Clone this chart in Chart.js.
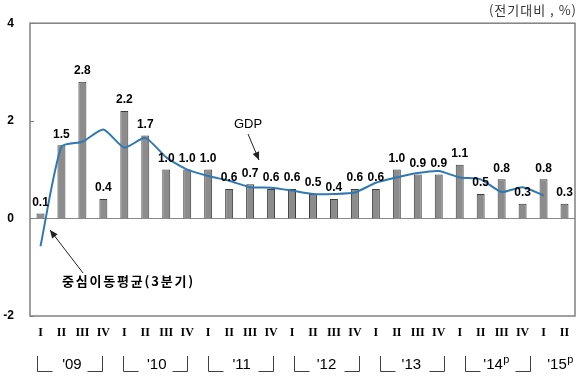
<!DOCTYPE html>
<html><head><meta charset="utf-8">
<script src="https://cdn.jsdelivr.net/npm/chart.js@4/dist/chart.umd.min.js"></script>
<style>html,body{margin:0;padding:0;background:#fff}#wrap{width:584px;height:381px;position:relative}</style>
</head><body><div id="wrap"><canvas id="c" width="584" height="381"></canvas></div>
<script>
const quarterLabels = ['I','II','III','IV','I','II','III','IV','I','II','III','IV','I','II','III','IV','I','II','III','IV','I','II','III','IV','I','II'];
const gdpValues = [0.1,1.5,2.8,0.4,2.2,1.7,1.0,1.0,1.0,0.6,0.7,0.6,0.6,0.5,0.4,0.6,0.6,1.0,0.9,0.9,1.1,0.5,0.8,0.3,0.8,0.3];
const maValues = [-0.57,1.47,1.57,1.82,1.45,1.65,1.25,1.0,0.87,0.77,0.64,0.63,0.57,0.5,0.5,0.53,0.73,0.84,0.93,0.97,0.84,0.8,0.54,0.64,0.47,null];
const yearLabels = ["'09","'10","'11","'12","'13","'14","'15"];
const yearPrelim = [false,false,false,false,false,true,true];
const yearQuarters = [4,4,4,4,4,4,2];
const yTicks = [-2,0,2,4];

function arrow(ctx,x1,y1,x2,y2){
  ctx.beginPath();ctx.moveTo(x1,y1);ctx.lineTo(x2,y2);ctx.stroke();
  const a=Math.atan2(y2-y1,x2-x1), L=8, W=3.5;
  ctx.beginPath();
  ctx.moveTo(x2,y2);
  ctx.lineTo(x2-L*Math.cos(a)+W*Math.sin(a), y2-L*Math.sin(a)-W*Math.cos(a));
  ctx.lineTo(x2-L*Math.cos(a)-W*Math.sin(a), y2-L*Math.sin(a)+W*Math.cos(a));
  ctx.closePath();ctx.fill();
}

const deco = {
  id:'deco',
  beforeDatasetsDraw(chart){
    const {ctx,chartArea:ca,scales:{y}}=chart;
    ctx.save();
    ctx.strokeStyle='#8a8a8a';ctx.lineWidth=1.2;
    const y0=Math.round(y.getPixelForValue(0))+0.5;
    ctx.beginPath();ctx.moveTo(ca.left,y0);ctx.lineTo(ca.right,y0);ctx.stroke();
    ctx.strokeStyle='#808080';ctx.lineWidth=1.5;
    ctx.strokeRect(ca.left,ca.top,ca.right-ca.left,ca.bottom-ca.top);
    ctx.lineWidth=1;
    yTicks.forEach(v=>{const p=Math.round(y.getPixelForValue(v))+0.5;ctx.beginPath();ctx.moveTo(ca.left,p);ctx.lineTo(ca.left+4,p);ctx.stroke();});
    ctx.restore();
  },
  afterDraw(chart){
    const {ctx,chartArea:ca,scales:{x,y}}=chart;
    ctx.save();
    // bar value labels
    const meta=chart.getDatasetMeta(1);
    ctx.fillStyle='#000';ctx.font='bold 12px "Liberation Sans", Arial, sans-serif';
    ctx.textAlign='center';ctx.textBaseline='middle';
    meta.data.forEach((b,i)=>{ctx.fillText(gdpValues[i].toFixed(1), b.x, b.y-11);});
    // unit label
    ctx.font='13px "Noto Sans CJK KR", sans-serif';ctx.fillStyle='#333';
    ctx.textAlign='right';ctx.textBaseline='middle';
    if (ctx.letterSpacing!==undefined) ctx.letterSpacing='1px';
    ctx.fillText('(전기대비 , %)',577,10);
    if (ctx.letterSpacing!==undefined) ctx.letterSpacing='0px';
    // annotations
    ctx.fillStyle='#000';ctx.textAlign='center';
    ctx.font='13px "Liberation Sans", Arial, sans-serif';
    ctx.fillText('GDP',248,124);
    ctx.strokeStyle='#222';ctx.fillStyle='#222';ctx.lineWidth=1;
    arrow(ctx,248,134,259,160);
    arrow(ctx,83,273,50,230);
    ctx.fillStyle='#000';
    ctx.font='bold 13px "Noto Sans CJK KR", sans-serif';
    ctx.textAlign='left';
    if (ctx.letterSpacing!==undefined) ctx.letterSpacing='1.8px';
    ctx.fillText('중심이동평균(3분기)',62,281);
    if (ctx.letterSpacing!==undefined) ctx.letterSpacing='0px';
    // year labels with brackets
    const cat=(x.getPixelForValue(1)-x.getPixelForValue(0));
    let s=0;
    ctx.strokeStyle='#404040';ctx.lineWidth=1;
    yearLabels.forEach((lab,g)=>{
      const n=yearQuarters[g];
      const gl=x.getPixelForValue(s)-cat/2, gr=x.getPixelForValue(s+n-1)+cat/2;
      const cx=(gl+gr)/2+g*1.0;
      ctx.font='15px "Liberation Sans", Arial, sans-serif';
      ctx.textAlign='center';ctx.textBaseline='middle';ctx.fillStyle='#000';
      const w=ctx.measureText(lab).width;
      let pw=0;
      if(yearPrelim[g]){ctx.font='11px "Liberation Sans", Arial, sans-serif';pw=ctx.measureText('p').width;}
      const tx=cx-(w+pw)/2;
      ctx.font='15px "Liberation Sans", Arial, sans-serif';ctx.textAlign='left';
      ctx.fillText(lab,tx,365);
      if(yearPrelim[g]){ctx.font='11px "Liberation Sans", Arial, sans-serif';ctx.fillText('p',tx+w+0.5,360);}
      if(n===4){
        const lx=Math.round(gl+7+g*1.8)+0.5, rx=Math.round(gr-12+g*1.8)+0.5;
        ctx.beginPath();ctx.moveTo(lx,356);ctx.lineTo(lx,371.5);ctx.lineTo(lx+15,371.5);ctx.stroke();
        ctx.beginPath();ctx.moveTo(rx-15,371.5);ctx.lineTo(rx,371.5);ctx.lineTo(rx,356);ctx.stroke();
      }
      s+=n;
    });
    ctx.restore();
  }
};

new Chart(document.getElementById('c'),{
  data:{
    labels:quarterLabels,
    datasets:[
      {type:'line',data:maValues,borderColor:'#2f78b4',borderWidth:2,pointRadius:0,tension:0.2,fill:false,order:0,spanGaps:false},
      {type:'bar',data:gdpValues,backgroundColor:'#8c8c8c',borderColor:'#3c3c3c',borderWidth:1,categoryPercentage:1,barPercentage:0.38,order:1}
    ]
  },
  options:{
    responsive:false,animation:false,devicePixelRatio:1,
    layout:{padding:{top:19,right:9,left:0,bottom:0}},
    plugins:{legend:{display:false},tooltip:{enabled:false}},
    scales:{
      x:{
        grid:{display:false,drawTicks:false},border:{display:false},
        ticks:{autoSkip:false,maxRotation:0,padding:10,color:'#000',font:{family:'"Liberation Serif", "Times New Roman", serif',weight:'bold',size:12}},
        afterFit(s){s.height=65;}
      },
      y:{
        min:-2,max:4,
        grid:{display:false,drawTicks:false},border:{display:false},
        ticks:{stepSize:2,padding:16,color:'#000',font:{family:'"Liberation Sans", Arial, sans-serif',weight:'bold',size:12}},
        afterFit(s){s.width=30;}
      }
    }
  },
  plugins:[deco]
});
</script></body></html>
